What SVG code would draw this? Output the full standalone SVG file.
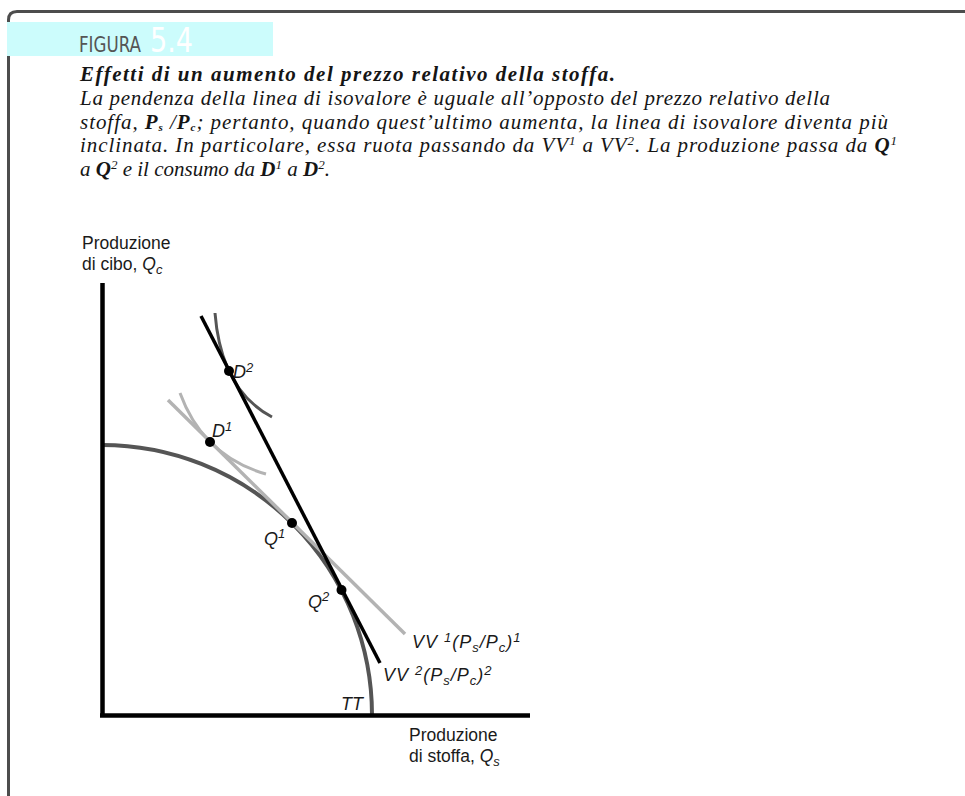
<svg xmlns="http://www.w3.org/2000/svg" width="965" height="796" viewBox="0 0 965 796">
<style>
.cap{font-family:"Liberation Serif","Times New Roman",serif;font-style:italic;font-size:21px;fill:#151515}
.b{font-weight:bold}
.ax{font-family:"Liberation Sans",Arial,sans-serif;font-size:17.5px;fill:#1a1a1a}
.lab{font-family:"Liberation Sans",Arial,sans-serif;font-style:italic;font-size:18px;fill:#1a1a1a}
.vv{letter-spacing:1px}
.sm{font-size:13px}
.xs{font-size:11px}
.dot{fill:#000}
</style>
<rect width="965" height="796" fill="#fff"/>
<g id="frame">
<path d="M8.5,796 V20 Q8.5,11.5 17,11.5 H965" fill="none" stroke="#4d4d4d" stroke-width="3"/>
<rect x="7" y="22" width="266" height="34" fill="#ccfcfc"/>
<text x="79" y="52" font-family="'DejaVu Sans Condensed','DejaVu Sans',sans-serif" font-size="22" fill="#555" textLength="62" lengthAdjust="spacingAndGlyphs">FIGURA</text>
<text x="150" y="52" font-family="'DejaVu Sans Condensed','DejaVu Sans',sans-serif" font-size="33" fill="#fff" textLength="43" lengthAdjust="spacingAndGlyphs">5.4</text>
</g>
<g id="caption">
<text class="cap b" x="80" y="81" textLength="535">Effetti di un aumento del prezzo relativo della stoffa.</text>
<text class="cap" x="80" y="105" textLength="750">La pendenza della linea di isovalore è uguale all’opposto del prezzo relativo della</text>
<text class="cap" x="80" y="129" textLength="808">stoffa, <tspan class="b">P</tspan><tspan class="b xs" dy="2">s</tspan><tspan dy="-2"> /</tspan><tspan class="b">P</tspan><tspan class="b xs" dy="2">c</tspan><tspan dy="-2">; pertanto, quando quest’ultimo aumenta, la linea di isovalore diventa più</tspan></text>
<text class="cap" x="80" y="152" textLength="817">inclinata. In particolare, essa ruota passando da VV<tspan class="sm" dy="-7">1</tspan><tspan dy="7"> a VV</tspan><tspan class="sm" dy="-7">2</tspan><tspan dy="7">. La produzione passa da </tspan><tspan class="b">Q</tspan><tspan class="sm" dy="-7">1</tspan></text>
<text class="cap" x="80" y="176">a <tspan class="b">Q</tspan><tspan class="sm" dy="-7">2</tspan><tspan dy="7"> e il consumo da </tspan><tspan class="b">D</tspan><tspan class="sm" dy="-7">1</tspan><tspan dy="7"> a </tspan><tspan class="b">D</tspan><tspan class="sm" dy="-7">2</tspan><tspan dy="7">.</tspan></text>
</g>
<g id="connectors">
<path id="TT" d="M102,445 A270,270 0 0 1 372,715" fill="none" stroke="#555" stroke-width="4"/>
<path id="IC1" d="M180,393 Q203,456 266,474" fill="none" stroke="#b3b3b3" stroke-width="3"/>
<line id="VV1" x1="168" y1="400" x2="405" y2="634" stroke="#b3b3b3" stroke-width="3.5"/>
<path id="IC2" d="M215,313 Q221,390 272,417" fill="none" stroke="#555" stroke-width="3"/>
<line id="VV2" x1="201" y1="316" x2="380" y2="663" stroke="#000" stroke-width="3.5"/>
<line id="yaxis" x1="102.5" y1="283" x2="102.5" y2="717" stroke="#000" stroke-width="4.5"/>
<line id="xaxis" x1="100" y1="715.5" x2="530" y2="715.5" stroke="#000" stroke-width="4.5"/>
</g>
<g id="D2"><circle class="dot" cx="229" cy="371" r="5"/><text class="lab" x="233" y="378">D<tspan class="sm" dy="-6">2</tspan></text></g>
<g id="D1"><circle class="dot" cx="210" cy="442" r="5"/><text class="lab" x="212" y="437">D<tspan class="sm" dy="-6">1</tspan></text></g>
<g id="Q1"><circle class="dot" cx="292" cy="523" r="5"/><text class="lab" x="264" y="545">Q<tspan class="sm" dy="-7">1</tspan></text></g>
<g id="Q2"><circle class="dot" cx="341.5" cy="590" r="5"/><text class="lab" x="308" y="608">Q<tspan class="sm" dy="-7">2</tspan></text></g>
<g id="labels">
<text class="ax" x="82" y="249">Produzione</text>
<text class="ax" x="82" y="270">di cibo, <tspan font-style="italic">Q</tspan><tspan class="sm" font-style="italic" dy="4">c</tspan></text>
<text class="lab vv" x="412" y="648">VV <tspan class="sm" dy="-6">1</tspan><tspan dy="6">(P</tspan><tspan class="sm" dy="4">s</tspan><tspan dy="-4">/P</tspan><tspan class="sm" dy="4">c</tspan><tspan dy="-4">)</tspan><tspan class="sm" dy="-6">1</tspan></text>
<text class="lab vv" x="383" y="681">VV <tspan class="sm" dy="-6">2</tspan><tspan dy="6">(P</tspan><tspan class="sm" dy="4">s</tspan><tspan dy="-4">/P</tspan><tspan class="sm" dy="4">c</tspan><tspan dy="-4">)</tspan><tspan class="sm" dy="-6">2</tspan></text>
<text class="lab" x="341" y="710">TT</text>
<text class="ax" x="409" y="741">Produzione</text>
<text class="ax" x="409" y="762">di stoffa, <tspan font-style="italic">Q</tspan><tspan class="sm" font-style="italic" dy="4">s</tspan></text>
</g>
</svg>
